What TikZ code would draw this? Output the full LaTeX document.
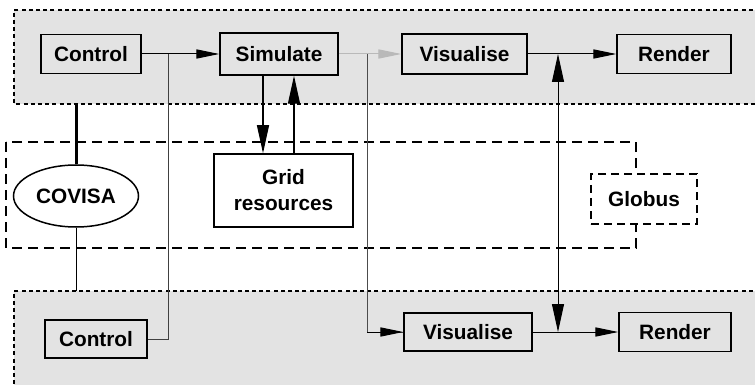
\documentclass[tikz,border=0pt]{standalone}
\usepackage{fontspec}
\setmainfont{Liberation Sans}
\usetikzlibrary{arrows.meta,shapes.geometric}
\definecolor{bandgray}{HTML}{E3E3E3}
\tikzset{
  box/.style={draw, line width=0.75pt, inner sep=0pt, align=center,
    font=\fontsize{10.4}{12}\selectfont\bfseries},
  band/.style={draw, line width=0.6pt, dash pattern=on 2pt off 1.6pt},
  thinline/.style={line width=0.5pt},
  harrow/.style={-{Triangle[length=11.5pt,width=4.6pt]}},
  varrow/.style={-{Triangle[length=14pt,width=6pt]}},
}
\begin{document}
\begin{tikzpicture}[x=0.5pt,y=-0.5pt]
\useasboundingbox (0,0) rectangle (755,385);

% shaded bands (open to the right and bottom)
\fill[bandgray] (14,10) rectangle (760,104);
\draw[band] (760,10) -- (14,10) -- (14,104) -- (760,104);
\fill[bandgray] (14,291) rectangle (760,390);
\draw[band] (760,291) -- (14,291) -- (14,390);

% middleware region
\draw[line width=0.6pt, dash pattern=on 5pt off 3pt] (6,142) rectangle (636,248);

% top row
\node[box, minimum width=50pt, minimum height=19.5pt] (ctl) at (91,54) {Control};
\node[box, minimum width=59pt, minimum height=21pt] (sim) at (279,54) {Simulate};
\node[box, minimum width=62.5pt, minimum height=20pt] (vis) at (464.5,54) {Visualise};
\node[box, minimum width=57pt, minimum height=19.5pt] (ren) at (674,54) {Render};

% middle row
\node[box, ellipse, minimum width=62.5pt, minimum height=31pt] (cov) at (76,196) {COVISA};
\node[box, fill=white, minimum width=69.5pt, minimum height=36.5pt] (grid) at (283.5,190.5) {Grid\\[1pt]resources};
\node[box, fill=white, line width=0.6pt, dash pattern=on 4pt off 2.5pt,
      minimum width=53pt, minimum height=25pt] (glo) at (644,199) {Globus};

% bottom row
\node[box, minimum width=51pt, minimum height=19pt] (ctl2) at (96,339) {Control};
\node[box, minimum width=64pt, minimum height=19pt] (vis2) at (468,332) {Visualise};
\node[box, minimum width=56pt, minimum height=19.5pt] (ren2) at (675,332) {Render};

% junction points
\coordinate (j1) at (168,54);
\coordinate (j2) at (367,54);
\coordinate (j3) at (558,54);
\coordinate (j4) at (558,332);
\coordinate (bt) at (76,104);
\coordinate (bb) at (76,291);

% connectors
\draw[thinline, harrow] (ctl.east) -- (sim.west);
\draw[thinline, black!75] (j1) |- (ctl2.east);
\draw[thinline, gray!55, harrow] (sim.east) -- (vis.west);
\draw[thinline, black!70] (j2) |- (vis2.west);
\draw[thinline, harrow] (j2 |- vis2.west) -- (vis2.west);
\draw[thinline, harrow] (vis.east) -- (ren.west);
\draw[thinline, harrow] (vis2.east) -- (ren2.west);
\draw[thinline, {Triangle[length=14pt,width=6pt]}-{Triangle[length=14pt,width=6pt]}] (j3) -- (j4);
\draw[line width=0.6pt, varrow] (sim.south -| 263,0) -- (grid.north -| 263,0);
\draw[line width=0.6pt, varrow] (grid.north -| 294,0) -- (sim.south -| 294,0);
\draw[line width=1.5pt] (bt) -- (cov.north);
\draw[thinline] (cov.south) -- (bb);
\end{tikzpicture}
\end{document}
